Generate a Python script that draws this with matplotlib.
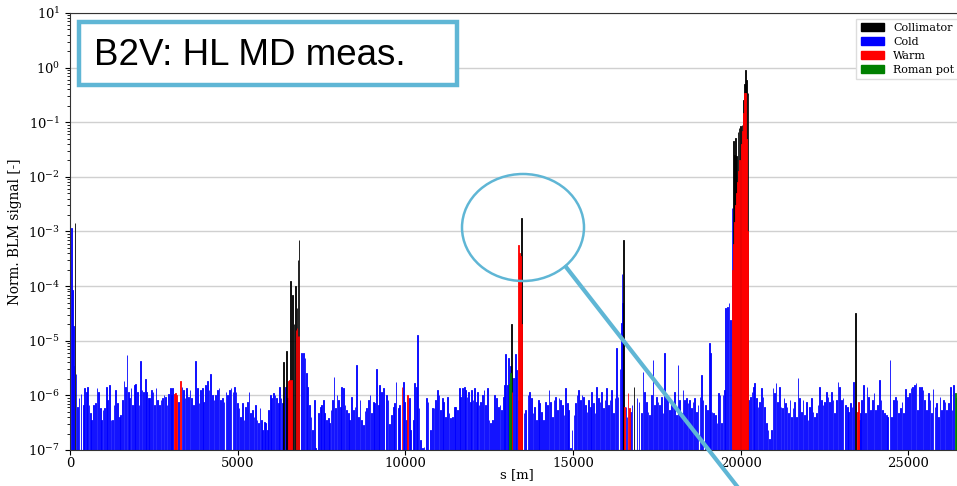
import numpy as np
import matplotlib.pyplot as plt
from matplotlib.patches import Patch, Rectangle, Ellipse
from matplotlib.lines import Line2D

plt.rcParams['font.family'] = 'DejaVu Serif'
plt.rcParams['mathtext.fontset'] = 'dejavuserif'

# (s [m], signal in units of 1e-6), cold BLMs
cold = [
    (50, 1150), (75, 85), (95, 19), (115, 3.4), (180, 2.5),
    (220, 0.62), (270, 0.88), (330, 1.08), (400, 0.66), (440, 1.35), (490, 1.15), (530, 1.45), (570, 0.66),
    (610, 0.47), (650, 0.35), (700, 0.66), (750, 0.72), (805, 1.35), (845, 1.15), (905, 0.58), (945, 0.35),
    (985, 0.54), (1025, 0.58), (1085, 1.45), (1125, 0.83), (1185, 1.55), (1225, 0.35), (1265, 0.35),
    (1310, 0.66), (1360, 1.26), (1420, 0.72), (1470, 0.41), (1510, 0.44), (1560, 0.83), (1610, 1.8),
    (1650, 1.45), (1700, 5.5), (1740, 1.15), (1780, 0.88), (1820, 1.35), (1870, 0.66), (1920, 1.55),
    (1960, 1.6), (2010, 1.15), (2060, 0.66), (2100, 4.2), (2150, 1.26), (2200, 1.15), (2250, 2.0),
    (2290, 1.15), (2340, 0.88), (2380, 0.88), (2430, 1.26), (2475, 1.15), (2515, 0.66), (2565, 1.35),
    (2615, 0.83), (2665, 0.66), (2715, 0.83), (2765, 0.88), (2805, 1.0), (2855, 0.93), (2895, 0.66),
    (2940, 1.08), (2990, 1.35), (3030, 1.0), (3060, 1.35), (3230, 0.77), (3340, 1.45), (3380, 1.26),
    (3430, 0.88), (3480, 1.35), (3530, 0.93), (3580, 1.26), (3630, 0.88), (3690, 0.66), (3750, 4.2),
    (3800, 1.35), (3850, 0.72), (3900, 1.26), (3950, 1.35), (3990, 0.77), (4045, 1.55), (4095, 1.8),
    (4145, 1.26), (4195, 2.5), (4245, 1.0), (4295, 0.83), (4345, 1.0), (4395, 1.26), (4445, 1.35),
    (4495, 0.83), (4545, 0.88), (4590, 0.77),
    (4650, 1.17), (4700, 1.02), (4750, 1.26), (4800, 1.35), (4860, 1.17), (4900, 1.45), (4950, 1.17),
    (5000, 0.72), (5040, 0.58), (5085, 0.41), (5135, 0.72), (5185, 0.35), (5235, 0.62), (5295, 0.77),
    (5335, 1.17), (5385, 0.47), (5435, 0.54), (5485, 0.41), (5525, 0.67), (5575, 0.35), (5615, 0.31),
    (5665, 0.58), (5710, 0.35), (5750, 0.23), (5790, 0.33), (5840, 0.31), (5890, 0.23), (5930, 0.54),
    (5970, 1.02), (6010, 0.88), (6060, 1.09), (6110, 1.02), (6160, 0.88), (6210, 0.72), (6250, 1.45),
    (6290, 0.88), (6340, 0.72), (6420, 1.4), (6480, 0.9),
    (6905, 6.0), (6955, 5.9), (7005, 4.8), (7045, 2.55), (7085, 1.45), (7135, 0.67), (7185, 0.41),
    (7225, 0.23), (7285, 0.82), (7325, 0.107), (7420, 0.47), (7470, 0.62), (7510, 0.67), (7560, 0.82),
    (7600, 0.47), (7650, 0.35), (7700, 0.38), (7740, 0.31), (7780, 0.54), (7820, 0.82), (7870, 2.2),
    (7910, 0.58), (7960, 1.02), (8010, 0.82), (8060, 0.62), (8100, 1.45), (8150, 1.35), (8200, 0.67),
    (8240, 0.54), (8300, 0.47), (8345, 0.35), (8395, 0.95), (8445, 0.54), (8495, 0.62), (8545, 3.6),
    (8595, 0.41), (8645, 0.82), (8695, 0.35), (8745, 0.29), (8795, 0.52), (8845, 0.58), (8895, 0.82),
    (8945, 1.02), (8990, 0.47), (9040, 0.77), (9090, 0.72), (9140, 3.1), (9190, 0.67), (9240, 1.55),
    (9290, 1.17), (9340, 1.35),
    (9437, 1.02), (9486, 0.82), (9536, 0.3), (9586, 0.44), (9636, 0.62), (9685, 0.72), (9725, 1.78),
    (9785, 0.58), (9834, 0.67), (9954, 1.78), (9983, 0.77), (10033, 0.35), (10113, 0.88), (10162, 0.23),
    (10242, 0.35), (10282, 1.66), (10331, 1.45), (10371, 12.8), (10411, 0.58), (10461, 0.15),
    (10510, 0.107), (10560, 0.115), (10630, 0.88), (10679, 0.77), (10759, 0.23), (10808, 0.58),
    (10858, 0.58), (10898, 0.82), (10958, 1.26), (11007, 1.02), (11057, 0.54), (11097, 0.88),
    (11146, 0.77), (11196, 0.41), (11256, 0.95), (11305, 0.47), (11355, 0.38), (11405, 0.41),
    (11455, 0.62), (11504, 0.62), (11554, 0.54), (11604, 1.35), (11653, 0.95), (11703, 1.35),
    (11753, 1.45), (11792, 1.26), (11842, 0.95), (11882, 1.17), (11932, 0.77), (11971, 1.26),
    (12021, 0.82), (12071, 1.35), (12121, 0.77), (12160, 1.17), (12200, 0.67), (12250, 0.77),
    (12299, 1.02), (12349, 1.26), (12399, 0.67), (12449, 1.35), (12498, 0.35), (12548, 0.31),
    (12598, 0.35), (12667, 1.02), (12717, 0.88), (12767, 0.62), (12826, 0.67), (12866, 0.54),
    (12916, 0.95), (12955, 1.55), (12995, 5.8), (13040, 1.55), (13085, 4.9), (13125, 3.5),
    (13224, 2.06), (13280, 5.8), (13320, 2.9), (13363, 0.82),
    (13542, 0.47), (13592, 0.54), (13661, 1.02), (13711, 1.17), (13760, 0.88), (13810, 0.47),
    (13860, 0.62), (13910, 0.35), (13960, 0.82), (14009, 0.72), (14059, 0.50), (14109, 0.35),
    (14185, 0.77), (14235, 0.67), (14284, 1.26), (14334, 0.77), (14384, 0.41), (14433, 0.82),
    (14483, 0.95), (14533, 0.54), (14582, 0.88), (14632, 0.82), (14682, 0.67), (14732, 0.44),
    (14781, 1.35), (14831, 0.72), (14871, 0.54), (14920, 0.107), (14970, 0.23), (15030, 0.44),
    (15079, 0.72), (15119, 1.02), (15169, 1.26), (15219, 0.82), (15268, 1.02), (15318, 0.95),
    (15368, 0.67), (15417, 0.50), (15467, 0.82), (15517, 0.62), (15557, 1.17), (15606, 0.72),
    (15656, 0.47), (15706, 1.45), (15755, 0.88), (15805, 0.77), (15855, 1.17), (15904, 0.58),
    (15954, 0.82), (16004, 1.35), (16054, 0.67), (16103, 0.82), (16153, 1.26), (16203, 0.47),
    (16252, 0.88), (16292, 7.3), (16342, 0.95), (16401, 3.1), (16440, 21), (16460, 170), (16480, 49),
    (16580, 0.62), (16610, 0.4), (16720, 0.5), (16759, 0.67), (16908, 0.88), (16968, 0.77),
    (17038, 0.47), (17087, 2.7), (17137, 1.17), (17187, 0.77), (17236, 0.50), (17286, 0.44),
    (17336, 1.02), (17385, 4.4), (17435, 0.67), (17495, 0.95), (17535, 0.77), (17584, 0.67),
    (17634, 0.95), (17684, 0.47), (17733, 5.9), (17783, 1.02), (17833, 0.82), (17883, 0.54),
    (17932, 0.77), (17982, 0.67), (18032, 1.17), (18081, 0.44), (18131, 3.6), (18181, 0.82),
    (18230, 0.47), (18280, 1.26), (18330, 0.82), (18380, 0.88), (18429, 0.72), (18479, 0.82),
    (18529, 0.58), (18578, 0.77), (18628, 0.88), (18678, 0.50), (18727, 0.67), (18787, 0.95),
    (18827, 2.37), (18876, 0.82),
    (18953, 0.67), (19003, 0.54), (19062, 9.0), (19102, 5.9), (19142, 0.50), (19191, 0.47),
    (19241, 0.44), (19291, 0.31), (19331, 1.09), (19380, 1.02), (19420, 0.31), (19470, 1.02),
    (19520, 1.26), (19549, 40), (19600, 42), (19648, 49), (19698, 24), (19740, 2700),
    (20235, 0.82), (20285, 0.95), (20334, 1.17), (20374, 1.45), (20414, 1.66), (20464, 0.88),
    (20513, 0.62), (20563, 0.77), (20613, 1.35), (20662, 0.95), (20712, 0.62), (20762, 0.31),
    (20812, 0.23), (20861, 0.16), (20911, 0.23), (20961, 1.35), (21010, 1.09), (21050, 1.66),
    (21100, 0.77), (21150, 1.45), (21199, 0.62), (21249, 0.58), (21289, 0.88), (21329, 0.72),
    (21378, 0.62), (21428, 0.47), (21468, 0.82), (21507, 0.41), (21557, 0.58), (21607, 0.77),
    (21656, 0.41), (21706, 2.06), (21756, 0.88), (21806, 0.50), (21855, 0.82), (21905, 0.44),
    (21955, 0.77), (22004, 0.35), (22054, 0.62), (22104, 0.88), (22154, 0.50), (22203, 0.41),
    (22253, 0.47), (22303, 0.67), (22352, 1.45), (22402, 0.82), (22452, 0.67), (22501, 0.77),
    (22551, 1.17), (22601, 0.95), (22651, 0.77), (22700, 1.17), (22750, 0.82), (22800, 0.47),
    (22849, 0.82), (22899, 1.78), (22949, 1.45), (22998, 0.82), (23048, 0.88),
    (23125, 0.67), (23175, 0.62), (23225, 0.5), (23275, 0.72), (23320, 0.6), (23373, 1.78),
    (23540, 0.35), (23572, 0.47), (23611, 0.82), (23661, 1.55), (23711, 0.47), (23770, 1.45),
    (23820, 0.95), (23870, 0.54), (23929, 0.82), (23979, 1.09), (24028, 0.54), (24088, 0.67),
    (24138, 1.91), (24187, 0.82), (24237, 0.54), (24287, 0.47), (24346, 0.44), (24386, 0.41),
    (24455, 4.5), (24505, 0.41), (24565, 0.82), (24614, 0.95), (24664, 0.82), (24714, 0.47),
    (24763, 0.58), (24813, 0.77), (24863, 0.47), (24922, 1.29), (24972, 0.95), (25031, 1.09),
    (25081, 1.35), (25131, 1.45), (25180, 1.55), (25230, 1.66), (25280, 0.54), (25339, 1.45),
    (25389, 1.45), (25438, 1.26), (25488, 0.82), (25538, 0.54), (25597, 1.09), (25647, 0.82),
    (25697, 0.47), (25736, 1.29), (25796, 0.62), (25846, 0.72), (25895, 0.41), (25945, 0.95),
    (25995, 0.54), (26044, 0.82), (26094, 0.77), (26144, 0.54), (26193, 0.72), (26253, 1.45),
    (26302, 0.54), (26352, 1.55),
]

# collimators (s [m], signal)
collimator = [
    (150, 1.45e-3), (6370, 4.1e-6), (6460, 6.5e-6), (6580, 1.25e-4), (6630, 7e-5), (6680, 2e-5),
    (6715, 1e-4), (6770, 4e-5), (6800, 3e-4), (6825, 7.1e-4), (13174, 2.0e-5), (13460, 1.8e-3),
    (16500, 7e-4), (16819, 1.45e-6), (19790, 4.5e-2), (19820, 2.5e-2), (19850, 5.1e-2),
    (19880, 2.4e-2), (19920, 6.5e-2), (19950, 7.9e-2), (20000, 8.5e-2), (20040, 9e-2),
    (20080, 0.26), (20110, 0.5), (20145, 0.91), (20175, 0.6), (20214, 0.35), (23423, 3.2e-5),
]

# warm elements
warm = [
    (3110, 1.05e-6), (3140, 1.1e-6), (3170, 1.0e-6), (3300, 1.8e-6),
    (6520, 1.8e-6), (6550, 1.9e-6), (6580, 1.8e-6), (6610, 1.9e-6),
    (6740, 1.6e-5), (6770, 1.7e-5), (6800, 1.2e-5), (6830, 1.2e-5),
    (9904, 1.45e-6), (10063, 1.02e-6), (13180, 1.15e-6),
    (13380, 5.6e-4), (13410, 4.0e-4), (13440, 3.5e-4), (13470, 2e-5),
    (16525, 6e-7), (16640, 1.09e-6), (16690, 5.8e-7),
    (19760, 2e-4), (19790, 6e-4), (19820, 1.5e-3), (19850, 3e-3), (19880, 5e-3), (19910, 8e-3),
    (19940, 1.3e-2), (19970, 2e-2), (20030, 4e-2), (20060, 7e-2), (20090, 0.15), (20120, 0.34),
    (20150, 0.34), (20180, 0.05), (20210, 1e-3),
    (23480, 5e-7), (23512, 7.7e-7),
]

# roman pots
roman_pot = [(13100, 1.6e-6), (13142, 2.6e-6), (26402, 1.09e-6), (26440, 9e-7)]

cold_s, cold_v = zip(*cold)
cold_v = np.array(cold_v) * 1e-6
coll_s, coll_v = zip(*collimator)
warm_s, warm_v = zip(*warm)
rp_s, rp_v = zip(*roman_pot)

fig = plt.figure(figsize=(9.57, 4.86), dpi=100)
ax = fig.add_axes([70/957, 36/486, 894/957, 437/486])

bw = 22
for s, v, c in [(cold_s, cold_v, 'blue'), (coll_s, coll_v, 'black'),
                (warm_s, warm_v, 'red'), (rp_s, rp_v, 'green')]:
    ax.bar(s, v, width=bw, color=c, edgecolor=c, linewidth=0.6)

ax.set_yscale('log')
ax.set_ylim(1e-7, 1e1)
ax.set_xlim(0, 26659)
ax.set_xticks([0, 5000, 10000, 15000, 20000, 25000])
ax.yaxis.grid(True, which='major', color='#d0d0d0', linewidth=1)
ax.set_axisbelow(True)
for sp in ax.spines.values():
    sp.set_color('#333333')
ax.tick_params(labelsize=9.5)
ax.tick_params(axis='x', pad=1.5)
ax.set_xlabel('s [m]', fontsize=9.5, labelpad=-1)
ax.set_ylabel('Norm. BLM signal [-]', fontsize=9.8)

handles = [Patch(facecolor='black', edgecolor='black', label='Collimator'),
           Patch(facecolor='blue', edgecolor='blue', label='Cold'),
           Patch(facecolor='red', edgecolor='red', label='Warm'),
           Patch(facecolor='green', edgecolor='green', label='Roman pot')]
leg = ax.legend(handles=handles, loc='upper right', fontsize=8, labelspacing=0.35,
                handlelength=2.1, fancybox=False, framealpha=1)
leg.get_frame().set_edgecolor('#dddddd')

# annotation overlay
hl = '#5fb6d5'
fig.patches.append(Rectangle((79/957, 1 - 85/486), 378/957, 63/486, transform=fig.transFigure,
                             facecolor='white', edgecolor=hl, linewidth=3.2, zorder=5))
fig.text(94/957, 1 - 65/486, 'B2V: HL MD meas.', fontsize=26.5, family='Liberation Sans',
         va='baseline', ha='left', zorder=6)
fig.patches.append(Ellipse((523/957, 1 - 227.5/486), 122/957, 107/486, transform=fig.transFigure,
                           facecolor='none', edgecolor=hl, linewidth=1.8, zorder=5))
fig.lines.append(Line2D([566/957, 754/957], [1 - 267/486, 1 - 508/486], transform=fig.transFigure,
                        color=hl, linewidth=3.0, zorder=5))

fig.savefig('out.png', dpi=100)
